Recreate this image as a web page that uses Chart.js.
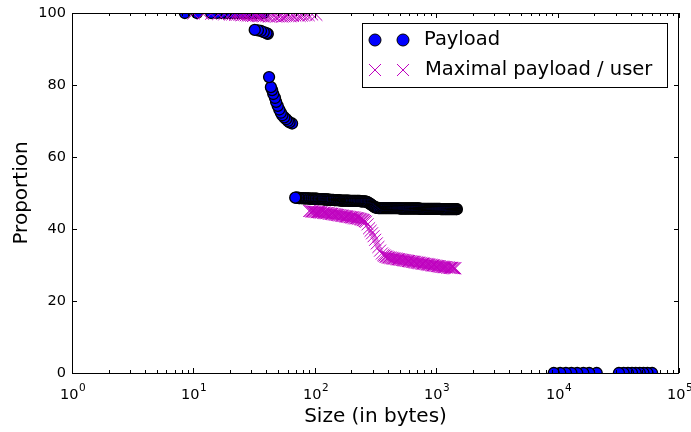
<!DOCTYPE html>
<html>
<head>
<meta charset="utf-8">
<script src="https://cdn.jsdelivr.net/npm/chart.js@4.4.1/dist/chart.umd.min.js"></script>
<style>
    html, body { margin: 0; padding: 0; background: #fff; }
    #chart { display: block; }
</style>
</head>
<body>
<canvas id="chart" width="691" height="432"></canvas>
<script>
// Payload (blue circles)
const payloadSize = [
    8.5, 10.7, 14, 15.5, 17, 18.5, 20, 21.5, 23, 25, 27, 29, 31, 33, 35, 38,
    32, 34, 36, 38, 40, 41,
    42, 43.5, 44.5, 45.5, 47, 48, 49.5, 51, 52.5, 54, 56, 58, 60, 62, 65,
    69, 70, 71, 73, 74, 75, 77, 78, 80, 81,
    83, 84, 86, 88, 89, 91, 93, 95, 96, 98,
    100, 102, 104, 106, 108, 110, 112, 114, 117, 119,
    121, 124, 126, 129, 131, 134, 136, 139, 142, 145,
    147, 150, 153, 156, 159, 162, 166, 169, 172, 176,
    179, 183, 186, 190, 194, 197, 201, 205, 209, 213,
    217, 222, 226, 230, 235, 240, 244, 249, 254, 259,
    264, 269, 274, 280, 285, 291, 296, 302, 308, 314,
    320, 327, 333, 340, 346, 353, 360, 367, 374, 382,
    389, 397, 405, 413, 421, 429, 437, 446, 455, 464,
    473, 482, 492, 501, 511, 521, 531, 542, 553, 563,
    574, 586, 597, 609, 621, 633, 646, 658, 671, 685,
    698, 712, 726, 740, 755, 770, 785, 800, 816, 832,
    849, 865, 882, 900, 917, 935, 954, 972, 992, 1011,
    1031, 1051, 1072, 1093, 1115, 1137, 1159, 1182, 1205, 1229,
    1253, 1278, 1303, 1329, 1355, 1382, 1409, 1437, 1465, 1480,
    9300, 10500, 11700, 13000, 14500, 16300, 18200, 21000,
    32000, 35000, 38000, 41000, 44000, 47500, 51000, 55000, 60000
];
const payloadShare = [
    100, 100, 100, 100, 100, 100, 100, 100, 100, 100, 100, 100, 100, 100, 100, 100,
    95.3, 95.2, 95.0, 94.7, 94.4, 94.2,
    82.2, 79.4, 78.6, 77.5, 76.4, 75.3, 74.2, 73.2, 72.3, 71.6, 71.0, 70.5, 70.0, 69.6, 69.3,
    48.7, 48.7, 48.7, 48.7, 48.6, 48.6, 48.6, 48.6, 48.6, 48.5,
    48.5, 48.5, 48.5, 48.5, 48.5, 48.4, 48.4, 48.4, 48.4, 48.4,
    48.4, 48.4, 48.4, 48.3, 48.3, 48.3, 48.3, 48.3, 48.3, 48.2,
    48.2, 48.2, 48.2, 48.2, 48.1, 48.1, 48.1, 48.1, 48.1, 48.0,
    48.0, 48.0, 48.0, 48.0, 48.0, 47.9, 47.9, 47.9, 47.9, 47.9,
    47.9, 47.9, 47.9, 47.9, 47.8, 47.8, 47.8, 47.8, 47.8, 47.8,
    47.8, 47.8, 47.8, 47.8, 47.8, 47.7, 47.7, 47.7, 47.7, 47.7,
    47.6, 47.5, 47.4, 47.2, 47.0, 46.8, 46.6, 46.4, 46.2, 46.0,
    45.9, 45.9, 45.8, 45.8, 45.8, 45.8, 45.8, 45.8, 45.8, 45.8,
    45.8, 45.8, 45.8, 45.8, 45.8, 45.8, 45.8, 45.8, 45.8, 45.8,
    45.8, 45.8, 45.8, 45.7, 45.7, 45.7, 45.7, 45.7, 45.7, 45.7,
    45.7, 45.7, 45.7, 45.7, 45.7, 45.7, 45.7, 45.7, 45.7, 45.7,
    45.7, 45.7, 45.7, 45.6, 45.6, 45.6, 45.6, 45.6, 45.6, 45.6,
    45.6, 45.6, 45.6, 45.6, 45.6, 45.6, 45.6, 45.6, 45.6, 45.6,
    45.6, 45.6, 45.6, 45.5, 45.5, 45.5, 45.5, 45.5, 45.5, 45.5,
    45.5, 45.5, 45.5, 45.5, 45.5, 45.5, 45.5, 45.5, 45.5, 45.5,
    0, 0, 0, 0, 0, 0, 0, 0,
    0, 0, 0, 0, 0, 0, 0, 0, 0
];

// Maximal payload / user (magenta crosses)
const maxUserSize = [
    10, 12, 14, 16, 18, 20, 21, 22, 23, 24,
    25, 26, 27, 28, 29, 30, 31, 32, 33, 34,
    35, 36, 37, 38, 40, 42, 44, 46, 48, 50,
    52, 54, 56, 58, 60, 63, 66, 69, 72, 75,
    78, 81, 85, 89, 95, 103,
    90, 92, 94, 96, 98, 100, 102, 104, 106, 108,
    110, 112, 114, 117, 119, 121, 124, 126, 129, 131,
    134, 136, 139, 142, 145, 147, 150, 153, 156, 159,
    162, 166, 169, 172, 176, 179, 183, 186, 190, 194,
    197, 201, 205, 209, 213, 217, 222, 226, 230, 235,
    240, 244, 249, 254, 259, 264, 272, 280, 288, 296,
    305, 314, 324, 334, 345, 357, 367, 374, 382, 389,
    397, 405, 413, 421, 429, 437, 446, 455, 464, 473,
    482, 492, 501, 511, 521, 531, 542, 553, 563, 574,
    586, 597, 609, 621, 633, 646, 658, 671, 685, 698,
    712, 726, 740, 755, 770, 785, 800, 816, 832, 849,
    865, 882, 900, 917, 935, 954, 972, 992, 1011, 1031,
    1051, 1072, 1093, 1115, 1137, 1159, 1182, 1205, 1229, 1253,
    1278, 1303, 1329, 1355, 1382, 1409, 1437
];
const maxUserShare = [
    99.9, 99.8, 99.8, 99.7, 99.7, 99.6, 99.6, 99.5, 99.6, 99.5,
    99.4, 99.5, 99.4, 99.3, 99.4, 99.3, 99.2, 99.4, 99.3, 99.2,
    99.1, 99.3, 99.2, 99.1, 99.2, 99.0, 99.1, 99.2, 99.0, 99.1,
    99.2, 99.0, 99.1, 99.2, 99.3, 99.1, 99.2, 99.3, 99.4, 99.2,
    99.3, 99.4, 99.5, 99.4, 99.6, 99.5,
    45.0, 45.0, 44.9, 44.9, 44.8, 44.8, 44.8, 44.7, 44.7, 44.7,
    44.6, 44.6, 44.6, 44.5, 44.5, 44.5, 44.4, 44.4, 44.4, 44.3,
    44.3, 44.2, 44.2, 44.1, 44.1, 44.0, 44.0, 43.9, 43.9, 43.8,
    43.8, 43.7, 43.7, 43.6, 43.6, 43.5, 43.5, 43.4, 43.4, 43.3,
    43.3, 43.2, 43.2, 43.1, 43.1, 43.0, 43.0, 42.9, 42.9, 42.8,
    42.7, 42.6, 42.5, 42.4, 42.2, 42.0, 41.3, 40.2, 39.5, 38.8,
    38.0, 37.0, 36.0, 35.0, 34.0, 33.2, 32.8, 32.6, 32.4, 32.3,
    32.2, 32.1, 32.0, 32.0, 31.9, 31.9, 31.8, 31.8, 31.7, 31.7,
    31.6, 31.6, 31.5, 31.5, 31.4, 31.4, 31.3, 31.3, 31.2, 31.2,
    31.1, 31.1, 31.0, 31.0, 30.9, 30.9, 30.8, 30.8, 30.7, 30.7,
    30.6, 30.6, 30.5, 30.5, 30.4, 30.4, 30.3, 30.3, 30.2, 30.2,
    30.1, 30.1, 30.0, 30.0, 29.9, 29.9, 29.8, 29.8, 29.7, 29.7,
    29.6, 29.6, 29.5, 29.5, 29.5, 29.4, 29.4, 29.4, 29.3, 29.3,
    29.3, 29.2, 29.2, 29.2, 29.1, 29.1, 29.1
];

const xTickPowers = [0, 1, 2, 3, 4, 5];
const yTickValues = [0, 20, 40, 60, 80, 100];
const legendLabels = ["Payload", "Maximal payload / user"];

const FONT = '"DejaVu Sans", sans-serif';
const BLUE = "#0000ff";
const MAGENTA = "#bf00bf";

function toPoints(xs, ys) {
    var pts = [];
    for (let i = 0; i < xs.length; i++) {
        pts.push({ x: xs[i], y: ys[i] });
    }
    return pts;
}

function drawCross(ctx, x, y, r) {
    ctx.beginPath();
    ctx.moveTo(x - r, y - r);
    ctx.lineTo(x + r, y + r);
    ctx.moveTo(x - r, y + r);
    ctx.lineTo(x + r, y - r);
    ctx.stroke();
}

function drawCircle(ctx, x, y, r) {
    ctx.beginPath();
    ctx.arc(x, y, r, 0, Math.PI * 2);
    ctx.fill();
    ctx.stroke();
}

// matplotlib-like frame, inward ticks, tick labels, titles and legend
const classicAxes = {
    id: "classicAxes",
    afterDraw(chart) {
        const ctx = chart.ctx;
        const a = chart.chartArea;
        const xs = chart.scales.x;
        const ys = chart.scales.y;
        ctx.save();
        ctx.strokeStyle = "#000";
        ctx.fillStyle = "#000";
        ctx.lineWidth = 1;

        // y ticks
        ctx.font = "14.5px " + FONT;
        ctx.textAlign = "right";
        ctx.textBaseline = "middle";
        yTickValues.forEach((v) => {
            let y = Math.round(ys.getPixelForValue(v)) + 0.5;
            ctx.beginPath();
            ctx.moveTo(a.left, y);
            ctx.lineTo(a.left + 5, y);
            ctx.moveTo(a.right, y);
            ctx.lineTo(a.right - 5, y);
            ctx.stroke();
            ctx.fillText(String(v), a.left - 6, y);
        });

        // x ticks, major and minor
        xTickPowers.forEach((p) => {
            let x = Math.round(xs.getPixelForValue(Math.pow(10, p))) + 0.5;
            ctx.beginPath();
            ctx.moveTo(x, a.bottom);
            ctx.lineTo(x, a.bottom - 5);
            ctx.moveTo(x, a.top);
            ctx.lineTo(x, a.top + 5);
            ctx.stroke();
            if (p < 5) {
                for (let k = 2; k < 10; k++) {
                    let mx = Math.round(xs.getPixelForValue(k * Math.pow(10, p))) + 0.5;
                    ctx.beginPath();
                    ctx.moveTo(mx, a.bottom);
                    ctx.lineTo(mx, a.bottom - 3);
                    ctx.moveTo(mx, a.top);
                    ctx.lineTo(mx, a.top + 3);
                    ctx.stroke();
                }
            }
            // label 10^p
            ctx.textBaseline = "alphabetic";
            ctx.textAlign = "left";
            ctx.font = "14.5px " + FONT;
            let wBase = ctx.measureText("10").width;
            ctx.font = "10.5px " + FONT;
            let wExp = ctx.measureText(String(p)).width;
            let start = x - (wBase + wExp) / 2;
            ctx.font = "14.5px " + FONT;
            ctx.fillText("10", start, 399);
            ctx.font = "10.5px " + FONT;
            ctx.fillText(String(p), start + wBase + 0.5, 391);
        });

        // frame
        ctx.strokeRect(a.left + 0.5, a.top + 0.5, a.right - a.left - 1, a.bottom - a.top);

        // axis titles
        ctx.font = "20px " + FONT;
        ctx.textAlign = "center";
        ctx.textBaseline = "alphabetic";
        ctx.fillText("Size (in bytes)", (a.left + a.right) / 2, 422);
        ctx.save();
        ctx.translate(27, (a.top + a.bottom) / 2);
        ctx.rotate(-Math.PI / 2);
        ctx.fillText("Proportion", 0, 0);
        ctx.restore();

        // legend
        ctx.fillStyle = "#fff";
        ctx.fillRect(362.5, 23.5, 305, 64);
        ctx.strokeRect(362.5, 23.5, 305, 64);
        ctx.fillStyle = BLUE;
        ctx.strokeStyle = "#000";
        drawCircle(ctx, 375, 40, 6);
        drawCircle(ctx, 403, 40, 6);
        ctx.strokeStyle = MAGENTA;
        drawCross(ctx, 375, 70, 6);
        drawCross(ctx, 403, 70, 6);
        ctx.fillStyle = "#000";
        ctx.font = "19.5px " + FONT;
        ctx.textAlign = "left";
        ctx.textBaseline = "middle";
        ctx.fillText(legendLabels[0], 424, 40);
        ctx.fillText(legendLabels[1], 425, 70);

        ctx.restore();
    },
};

const config = {
    type: "scatter",
    data: {
        datasets: [
            {
                label: legendLabels[1],
                data: toPoints(maxUserSize, maxUserShare),
                pointStyle: "crossRot",
                pointRadius: 8.5,
                borderColor: MAGENTA,
                borderWidth: 1,
                backgroundColor: MAGENTA,
                clip: 0,
                order: 0,
            },
            {
                label: legendLabels[0],
                // largest sizes drawn first so the smallest sit on top
                data: toPoints(payloadSize, payloadShare).reverse(),
                pointStyle: "circle",
                pointRadius: 5.5,
                backgroundColor: BLUE,
                borderColor: "#000",
                borderWidth: 1.3,
                clip: 0,
                order: 1,
            },
        ],
    },
    options: {
        responsive: false,
        animation: false,
        events: [],
        layout: { padding: { left: 72, right: 12, top: 13, bottom: 59 } },
        plugins: {
            legend: { display: false },
            tooltip: { enabled: false },
        },
        scales: {
            x: { type: "logarithmic", min: 1, max: 100000, display: false },
            y: { type: "linear", min: 0, max: 100, display: false },
        },
    },
    plugins: [classicAxes],
};

var chart = new Chart(document.getElementById("chart"), config);
</script>
</body>
</html>
